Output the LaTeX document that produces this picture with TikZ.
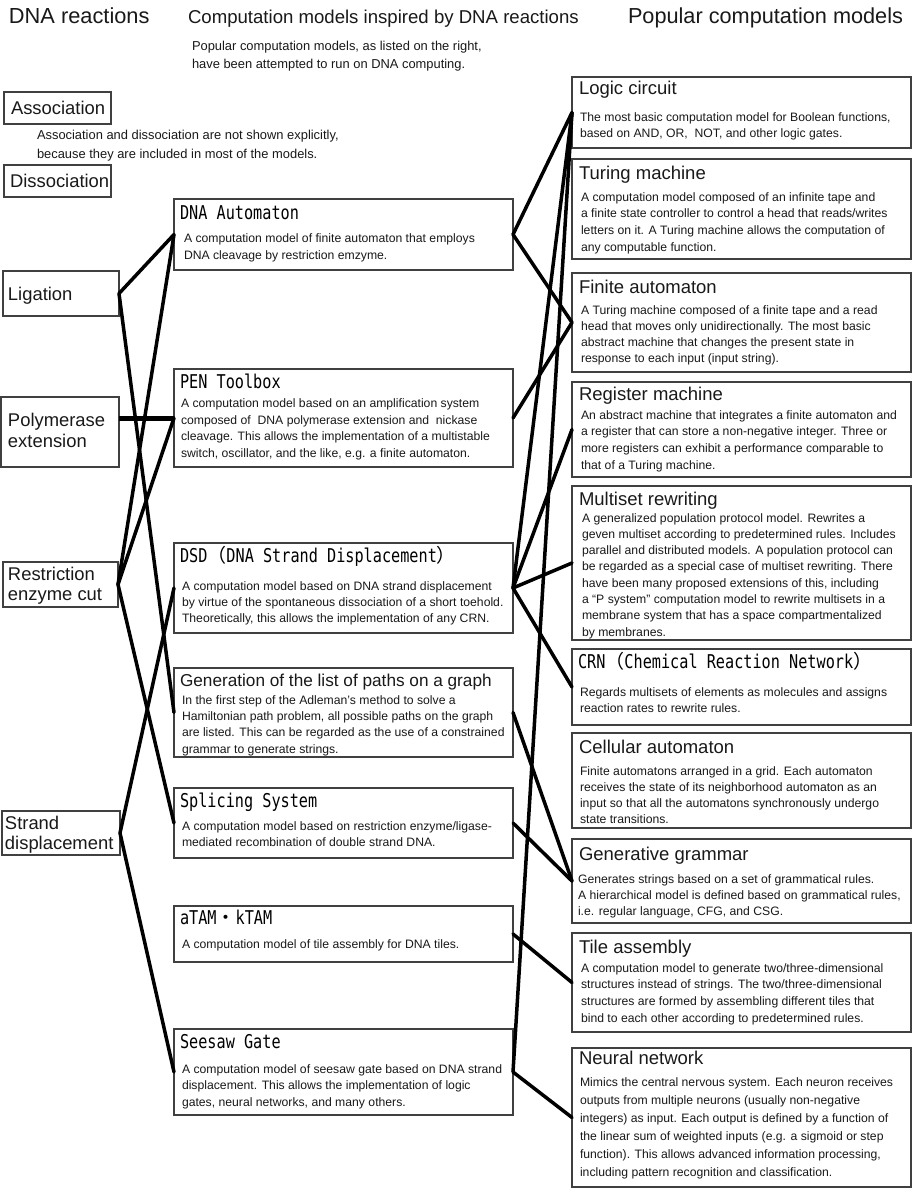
\documentclass[tikz,border=0pt]{standalone}
\usepackage{fontspec}
\setmainfont{Liberation Sans}
\newfontfamily\monofont[FakeStretch=0.8]{DejaVu Sans Mono}
\newfontfamily\cjkfont{Noto Sans CJK JP}
\definecolor{txtc}{gray}{0.1}
\definecolor{boxc}{gray}{0.25}
\newcommand\cj[1]{{\cjkfont #1}}
% name, (x,y) of first baseline, size, skip, text
\newcommand\ptext[5]{\node[inner sep=0pt, outer sep=0pt, anchor=north west, align=left, text=txtc,
  font={\fontsize{#3}{#4}\selectfont}, yshift=#3pt] (#1) at (#2) {\rule{0pt}{#3pt}#5};}
\newcommand\mtext[3]{\node[inner sep=0pt, outer sep=0pt, anchor=north west, align=left, text=black,
  font={\monofont\fontsize{19}{22}\selectfont}, yshift=19pt] (#1) at (#2) {\rule{0pt}{19pt}#3};}
\newcommand\mkbox[5]{\node[box, minimum width={#4-#2}, minimum height={#5-#3}] (#1) at (#2,#3) {};}
\tikzset{
  box/.style={draw=boxc, line width=1.3pt, inner sep=0pt, outer sep=0pt, anchor=north west},
  conn/.style={line width=3.5pt, line cap=round, draw=black},
  thickconn/.style={line width=5pt, draw=black},
}
\begin{document}
\begin{tikzpicture}[x=1pt,y=-1pt]
\useasboundingbox[fill=white] (0,0) rectangle (914,1193);

% headers
\ptext{h1}{9,24}{21.8}{26}{DNA reactions}
\ptext{h2}{188,24}{18.6}{22}{Computation models inspired by DNA reactions}
\ptext{h3}{628,24}{21.7}{26}{Popular computation models}
\ptext{note1}{192,51}{12.9}{18}{Popular computation models, as listed on the right,\\have been attempted to run on DNA computing.}
\ptext{note2}{37,140}{12.9}{19}{Association and dissociation are not shown explicitly,\\because they are included in most of the models.}

% left column
\mkbox{assoc}{4}{92}{111}{124}
\mkbox{dissoc}{4}{165}{111}{197}
\mkbox{lig}{3}{271}{119}{316}
\mkbox{poly}{1}{397}{119}{467}
\mkbox{restr}{3}{562}{118}{607}
\mkbox{strand}{2}{811}{120}{855}
\ptext{assoc-t}{11,115}{18.4}{21}{Association}
\ptext{dissoc-t}{10,188}{18.4}{21}{Dissociation}
\ptext{lig-t}{8,300}{18.4}{21}{Ligation}
\ptext{poly-t}{8,426}{18.4}{21}{Polymerase\\ extension}
\ptext{restr-t}{8,580}{18.4}{20}{Restriction\\ enzyme cut}
\ptext{strand-t}{5,829}{18.4}{20}{Strand\\displacement}

% middle column
\mkbox{dnaaut}{174}{199}{513}{270}
\mkbox{pen}{174}{369}{513}{467}
\mkbox{dsd}{174}{543}{513}{633}
\mkbox{gen}{174}{668}{513}{757}
\mkbox{splice}{174}{788}{513}{858}
\mkbox{tam}{174}{906}{513}{962}
\mkbox{seesaw}{174}{1029}{513}{1115}

\mtext{dnaaut-t}{180,219}{DNA Automaton}
\ptext{dnaaut-b}{184,242}{12.2}{17.5}{A computation model of finite automaton that employs\\DNA cleavage by restriction emzyme.}
\mtext{pen-t}{180,388}{PEN Toolbox}
\ptext{pen-b}{181,407.5}{12.2}{16.7}{A computation model based on an amplification system\\composed of~ DNA polymerase extension and~ nickase\\cleavage. This allows the implementation of a multistable\\switch, oscillator, and the like, e.g. a finite automaton.}
\mtext{dsd-t}{180,562}{DSD\cj{（}DNA Strand Displacement\cj{）}}
\ptext{dsd-b}{182,590.5}{12.2}{16}{A computation model based on DNA strand displacement\\by virtue of the spontaneous dissociation of a short toehold.\\Theoretically, this allows the implementation of any CRN.}
\ptext{gen-t}{180,686}{17.2}{20}{Generation of the list of paths on a graph}
\ptext{gen-b}{182,704}{12.2}{16.4}{In the first step of the Adleman's method to solve a\\Hamiltonian path problem, all possible paths on the graph\\are listed. This can be regarded as the use of a constrained\\grammar to generate strings.}
\mtext{splice-t}{180,807}{Splicing System}
\ptext{splice-b}{182,830}{12.2}{16.5}{A computation model based on restriction enzyme/ligase-\\mediated recombination of double strand DNA.}
\mtext{tam-t}{180,924}{aTAM\cj{・}kTAM}
\ptext{tam-b}{182,948}{12.2}{16.5}{A computation model of tile assembly for DNA tiles.}
\mtext{seesaw-t}{180,1048}{Seesaw Gate}
\ptext{seesaw-b}{182,1073}{12.2}{16.5}{A computation model of seesaw gate based on DNA strand\\displacement. This allows the implementation of logic\\gates, neural networks, and many others.}

% right column
\mkbox{logic}{572}{77}{911}{148}
\mkbox{turing}{572}{159}{911}{259}
\mkbox{finite}{572}{273}{911}{372}
\mkbox{register}{572}{382}{911}{477}
\mkbox{multiset}{572}{486}{911}{640}
\mkbox{crn}{572}{649}{911}{725}
\mkbox{cellular}{572}{733}{911}{828}
\mkbox{gg}{572}{839}{911}{923}
\mkbox{tile}{572}{933}{911}{1032}
\mkbox{nn}{572}{1048}{911}{1187}

\ptext{logic-t}{579,95}{18.5}{22}{Logic circuit}
\ptext{logic-b}{580,122}{12.2}{16}{The most basic computation model for Boolean functions,\\based on AND, OR,~ NOT, and other logic gates.}
\ptext{turing-t}{579,180}{18.5}{22}{Turing machine}
\ptext{turing-b}{581,201}{12.2}{16.7}{A computation model composed of an infinite tape and\\a finite state controller to control a head that reads/writes\\letters on it. A Turing machine allows the computation of\\any computable function.}
\ptext{finite-t}{579,293}{18.5}{22}{Finite automaton}
\ptext{finite-b}{581,314}{12.2}{16.3}{A Turing machine composed of a finite tape and a read\\head that moves only unidirectionally. The most basic\\abstract machine that changes the present state in\\response to each input (input string).}
\ptext{register-t}{579,400}{18.5}{22}{Register machine}
\ptext{register-b}{581,419}{12.2}{16.7}{An abstract machine that integrates a finite automaton and\\a register that can store a non-negative integer. Three or\\more registers can exhibit a performance comparable to\\that of a Turing machine.}
\ptext{multiset-t}{579,505}{18.5}{22}{Multiset rewriting}
\ptext{multiset-b}{582,522}{12.2}{16.3}{A generalized population protocol model. Rewrites a\\geven multiset according to predetermined rules. Includes\\parallel and distributed models. A population protocol can\\be regarded as a special case of multiset rewriting. There\\have been many proposed extensions of this, including\\a “P system” computation model to rewrite multisets in a\\membrane system that has a space compartmentalized\\by membranes.}
\mtext{crn-t}{578,668}{CRN\cj{（}Chemical Reaction Network\cj{）}}
\ptext{crn-b}{580,696}{12.2}{16.5}{Regards multisets of elements as molecules and assigns\\reaction rates to rewrite rules.}
\ptext{cellular-t}{579,753}{18.5}{22}{Cellular automaton}
\ptext{cellular-b}{580,775}{12.2}{16}{Finite automatons arranged in a grid. Each automaton\\receives the state of its neighborhood automaton as an\\input so that all the automatons synchronously undergo\\state transitions.}
\ptext{gg-t}{579,860}{18.5}{22}{Generative grammar}
\ptext{gg-b}{578,883}{12.2}{16}{Generates strings based on a set of grammatical rules.\\A hierarchical model is defined based on grammatical rules,\\i.e. regular language, CFG, and CSG.}
\ptext{tile-t}{579,953}{18.5}{22}{Tile assembly}
\ptext{tile-b}{581,972}{12.2}{16.7}{A computation model to generate two/three-dimensional\\structures instead of strings. The two/three-dimensional\\structures are formed by assembling different tiles that\\bind to each other according to predetermined rules.}
\ptext{nn-t}{579,1064}{18.5}{22}{Neural network}
\ptext{nn-b}{580,1086}{12.2}{18}{Mimics the central nervous system. Each neuron receives\\outputs from multiple neurons (usually non-negative\\integers) as input. Each output is defined by a function of\\the linear sum of weighted inputs (e.g. a sigmoid or step\\function). This allows advanced information processing,\\including pattern recognition and classification.}

% connectors: left -> middle
\draw[conn] (lig.east) -- (dnaaut.west);
\draw[conn] (lig.east) -- (gen.west);
\draw[thickconn] (pen.west -| poly.east) -- (pen.west);
\draw[conn] (restr.east) -- (dnaaut.west);
\draw[conn] (restr.east) -- (pen.west);
\draw[conn] (restr.east) -- (splice.west);
\draw[conn] (strand.east) -- (dsd.west);
\draw[conn] (strand.east) -- (seesaw.west);
% connectors: middle -> right
\draw[conn] (dnaaut.east) -- (logic.west);
\draw[conn] (dnaaut.east) -- (finite.west);
\draw[conn] (pen.east) -- (finite.west);
\draw[conn] (dsd.east) -- (logic.west);
\draw[conn] (dsd.east) -- (register.west);
\draw[conn] (dsd.east) -- (multiset.west);
\draw[conn] (dsd.east) -- (crn.west);
\draw[conn] (gen.east) -- (gg.west);
\draw[conn] (splice.east) -- (gg.west);
\draw[conn] (tam.east) -- (tile.west);
\draw[conn] (seesaw.east) -- (logic.west);
\draw[conn] (seesaw.east) -- (nn.west);
\end{tikzpicture}
\end{document}
